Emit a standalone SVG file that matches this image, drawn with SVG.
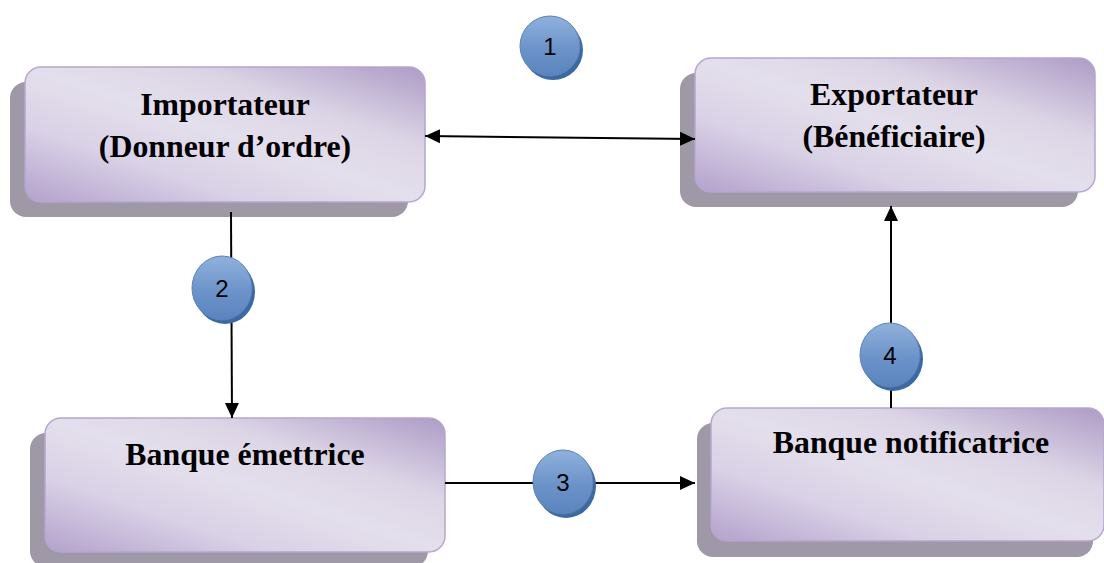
<svg xmlns="http://www.w3.org/2000/svg" width="1104" height="563" viewBox="0 0 1104 563">
  <defs>
    <linearGradient id="boxFill" x1="0" y1="1" x2="1" y2="0">
      <stop offset="0" stop-color="#b3a1cc"/>
      <stop offset="0.28" stop-color="#d9d1e6"/>
      <stop offset="0.5" stop-color="#e4dfec"/>
      <stop offset="0.7" stop-color="#dcd5e6"/>
      <stop offset="1" stop-color="#ad9bc5"/>
    </linearGradient>
    <linearGradient id="badgeFill" x1="0" y1="0" x2="0" y2="1">
      <stop offset="0" stop-color="#8fb1dc"/>
      <stop offset="0.55" stop-color="#6c93c9"/>
      <stop offset="1" stop-color="#5a84bf"/>
    </linearGradient>
    <marker id="arrow" markerUnits="userSpaceOnUse" markerWidth="16" markerHeight="16" viewBox="0 0 16 16" refX="15" refY="8" orient="auto-start-reverse">
      <path d="M0,1 L15,8 L0,15 Z" fill="#000"/>
    </marker>
  </defs>
  <style>
    .shadow { fill: #9f98a7; }
    .box { fill: url(#boxFill); stroke: #b8a5cf; stroke-width: 1.5; }
    .label { font-family: "Liberation Serif", "Times New Roman", serif; font-weight: bold; font-size: 31.8px; fill: #000; text-anchor: middle; }
    .conn { stroke: #000; stroke-width: 2; fill: none; }
    .badge-shadow { fill: #3b6aa3; }
    .badge { fill: url(#badgeFill); stroke: #5a83b8; stroke-width: 1; }
    .num { font-family: "Liberation Sans", Arial, sans-serif; font-size: 24px; fill: #000; text-anchor: middle; }
  </style>

  <rect width="1104" height="563" fill="#fff"/>

  <!-- Nodes -->
  <g id="importateur">
    <rect class="shadow" x="10" y="82" width="398" height="135" rx="16"/>
    <rect class="box" x="25" y="67" width="400" height="135" rx="16"/>
    <text class="label" x="225" y="115">Importateur</text>
    <text class="label" x="225" y="157">(Donneur d’ordre)</text>
  </g>

  <g id="exportateur">
    <rect class="shadow" x="680" y="73" width="398" height="134" rx="16"/>
    <rect class="box" x="695" y="58" width="400" height="134" rx="16"/>
    <text class="label" x="894" y="105">Exportateur</text>
    <text class="label" x="894" y="147">(Bénéficiaire)</text>
  </g>

  <g id="banque-emettrice">
    <rect class="shadow" x="30" y="433" width="398" height="134" rx="16"/>
    <rect class="box" x="45" y="418" width="400" height="134" rx="16"/>
    <text class="label" x="245" y="465">Banque émettrice</text>
  </g>

  <g id="banque-notificatrice">
    <rect class="shadow" x="697" y="423" width="396" height="134" rx="16"/>
    <rect class="box" x="711" y="408" width="393" height="133" rx="16"/>
    <text class="label" x="911" y="453">Banque notificatrice</text>
  </g>

  <!-- Connectors -->
  <g id="connectors">
    <line class="conn" x1="425" y1="136" x2="695" y2="139" marker-start="url(#arrow)" marker-end="url(#arrow)"/>
    <line class="conn" x1="231" y1="212" x2="232" y2="418" marker-end="url(#arrow)"/>
    <line class="conn" x1="445" y1="483" x2="695" y2="483" marker-end="url(#arrow)"/>
    <line class="conn" x1="891" y1="408" x2="891" y2="206" marker-end="url(#arrow)"/>
  </g>

  <!-- Step badges -->
  <g id="step-1">
    <ellipse class="badge-shadow" cx="553" cy="50" rx="30" ry="30"/>
    <ellipse class="badge" cx="550" cy="46" rx="30" ry="30"/>
    <text class="num" x="550" y="55">1</text>
  </g>
  <g id="step-2">
    <ellipse class="badge-shadow" cx="225" cy="292" rx="30" ry="32"/>
    <ellipse class="badge" cx="222" cy="288" rx="30" ry="32"/>
    <text class="num" x="222" y="297">2</text>
  </g>
  <g id="step-3">
    <ellipse class="badge-shadow" cx="566" cy="486" rx="30" ry="32"/>
    <ellipse class="badge" cx="563" cy="482" rx="30" ry="32"/>
    <text class="num" x="563" y="491">3</text>
  </g>
  <g id="step-4">
    <ellipse class="badge-shadow" cx="893" cy="359" rx="30" ry="32"/>
    <ellipse class="badge" cx="890" cy="355" rx="30" ry="32"/>
    <text class="num" x="890" y="364">4</text>
  </g>
</svg>
